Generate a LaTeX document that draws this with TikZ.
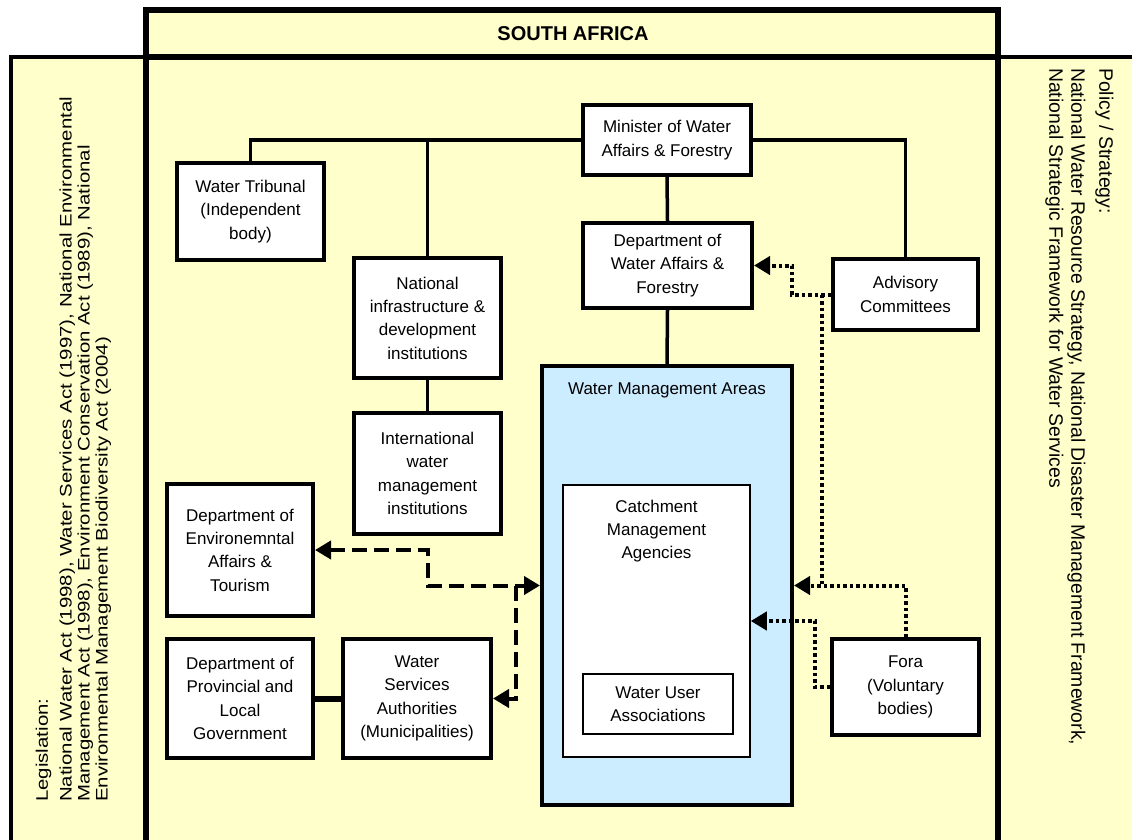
\documentclass[tikz,border=0pt]{standalone}
\usepackage{fontspec}
\usepackage{graphicx}
\setmainfont{Liberation Sans}
\usetikzlibrary{arrows.meta}
\definecolor{bgyellow}{HTML}{FFFFCC}
\definecolor{wmablue}{HTML}{CCECFF}
\newcommand{\bxfont}{\fontsize{17}{23.3}\selectfont}
\begin{document}
\begin{tikzpicture}[x=1pt,y=-1pt,
  box/.style={draw=black, line width=4pt, fill=white, align=center, inner sep=0pt, font=\bxfont},
  thinbox/.style={draw=black, line width=1.5pt, fill=white, align=center, inner sep=0pt, font=\bxfont},
  lbl/.style={align=center, inner sep=0pt, font=\bxfont},
  conn/.style={line width=3.5pt},
  tip/.style={-{Triangle[length=16pt,width=18pt]}},
  dashconn/.style={line width=4pt, dash pattern=on 15pt off 7pt},
  dotconn/.style={line width=4pt, dash pattern=on 3.5pt off 3pt}
]
\useasboundingbox (0,0) rectangle (1132,839);
\clip (0,0) rectangle (1132,839);
% background panels
\filldraw[fill=bgyellow, line width=4pt] (11,57) rectangle (146,860);
\filldraw[fill=bgyellow, line width=4pt] (998,57) rectangle (1160,860);
\filldraw[fill=bgyellow, line width=5.5pt] (146,57) rectangle (998,860);
\filldraw[fill=bgyellow, line width=5.5pt] (146,10) rectangle (998,57);
\node[font=\bfseries\fontsize{20}{24}\selectfont, inner sep=0pt] (title) at (573,34) {SOUTH AFRICA};

% strip texts
\node[rotate=90, anchor=north west, inner sep=0pt] (legis) at (35,802)
  {\scalebox{1}[0.82]{\fontsize{20.4}{22}\selectfont\begin{tabular}{@{}l@{}}Legislation:\\[7pt]
   National Water Act (1998), Water Services Act (1997), National Environmental\\
   Management Act (1998), Environment Conservation Act (1989), National\\
   Environmental Management Biodiversity Act (2004)\end{tabular}}};
\node[rotate=-90, anchor=north west, inner sep=0pt] (policy) at (1115,68)
  {\fontsize{19.4}{22}\selectfont\begin{tabular}{@{}l@{}}Policy / Strategy:\\[6pt]
   National Water Resource Strategy, National Disaster Management Framework,\\
   National Strategic Framework for Water Services\end{tabular}};

% boxes
\node[box, minimum width=168pt, minimum height=70pt] (min) at (667,140) {Minister of Water\\Affairs \& Forestry};
\node[box, minimum width=169pt, minimum height=85pt] (dwaf) at (667.5,265.5) {Department of\\Water Affairs \&\\Forestry};
\node[box, minimum width=147pt, minimum height=97pt] (trib) at (250.5,211.5) {Water Tribunal\\(Independent\\body)};
\node[box, minimum width=147pt, minimum height=120pt] (ni) at (427.5,318) {National\\infrastructure \&\\development\\institutions};
\node[box, minimum width=147pt, minimum height=121pt] (intl) at (427.5,473.5) {International\\water\\management\\institutions};
\node[box, minimum width=145pt, minimum height=71pt] (adv) at (905.5,294.5) {Advisory\\Committees};
\node[box, minimum width=146pt, minimum height=132pt] (deat) at (240,550) {Department of\\Environemntal\\Affairs \&\\Tourism};
\node[box, minimum width=146pt, minimum height=119pt] (dplg) at (240,698.5) {Department of\\Provincial and\\Local\\Government};
\node[box, minimum width=148pt, minimum height=119pt] (wsa) at (417,698.5) {Water\\Services\\Authorities\\(Municipalities)};
\node[box, minimum width=147pt, minimum height=96pt] (fora) at (905.5,687) {Fora\\(Voluntary\\bodies)};

\node[draw=black, line width=4pt, fill=wmablue, minimum width=250pt, minimum height=439pt, inner sep=0pt] (wma) at (667,585.5) {};
\node[lbl, anchor=base] (wmatxt) at (667,394) {Water Management Areas};
\node[thinbox, minimum width=187pt, minimum height=272pt] (cma) at (656.5,621) {};
\node[lbl, anchor=north] (cmatxt) at (656.5,499.6) {Catchment\\Management\\Agencies};
\node[thinbox, minimum width=150pt, minimum height=60pt] (wua) at (658,704) {Water User\\Associations};

% solid connectors
\draw[conn] (min.west) -| (trib.north);
\draw[conn] (ni.north) -- (ni.north |- min.west);
\draw[conn] (min.east) -| (adv.north);
\draw[conn] (min.south) -- (dwaf.north);
\draw[conn] (dwaf.south) -- (wma.north);
\draw[conn] (ni.south) -- (intl.north);
\draw[conn, line width=6pt] (dplg.east) -- (wsa.west);

% dashed connectors
\coordinate (d1) at (427.5,585.5);
\coordinate (d2) at (516,585.5);
\draw[dashconn, {Triangle[length=16pt,width=18pt]}-{Triangle[length=16pt,width=18pt]}] (deat.east) -| (d1) -- (wma.west);
\draw[dashconn, tip] (d2) |- (wsa.east);

% dotted connectors
\coordinate (p1) at (792,294.5);
\coordinate (p2) at (822,294.5);
\coordinate (p3) at (815,687);
\draw[dotconn, tip] (adv.west) -- (p1) |- (dwaf.east);
\draw[dotconn] (p2) -- (p2 |- wma.east);
\draw[dotconn, tip] (fora.north) |- (wma.east);
\draw[dotconn, tip] (fora.west) -- (p3) |- (cma.east);
\end{tikzpicture}
\end{document}
